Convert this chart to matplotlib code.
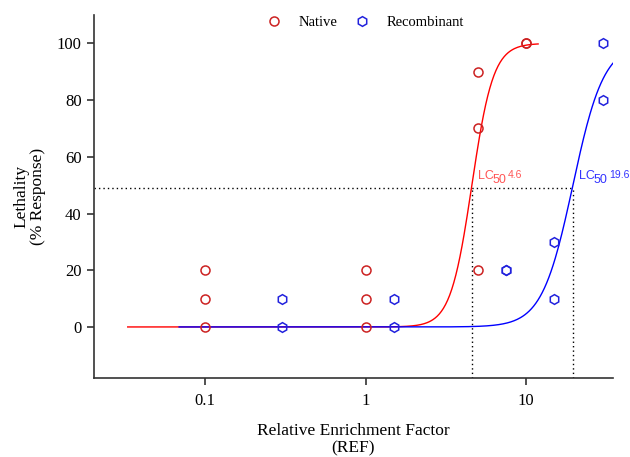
import numpy as np
import matplotlib
matplotlib.use("Agg")
import matplotlib.pyplot as plt

# Data
native_x = [0.1, 0.1, 0.1, 1, 1, 1, 5, 5, 5, 10, 10]
native_y = [0, 10, 20, 0, 10, 20, 20, 70, 90, 100, 100]
recomb_x = [0.3, 0.3, 1.5, 1.5, 7.5, 7.5, 15, 15, 30, 30]
recomb_y = [0, 10, 0, 10, 20, 20, 10, 30, 80, 100]

# Fitted Hill curve parameters (LC50, slope) and plotted ranges
native_lc50, native_slope, native_range = 4.6, 6.5, (0.033, 11.9)
recomb_lc50, recomb_slope, recomb_range = 19.6, 4.5, (0.069, 34.8)
half_level = 49

x_ticks = [0.1, 1, 10]
x_ticklabels = ["0.1", "1", "10"]
y_ticks = [0, 20, 40, 60, 80, 100]


def hill(x, lc50, h):
    return 100.0 / (1.0 + (lc50 / x) ** h)


fig = plt.figure(figsize=(6.3, 4.57), dpi=100)
ax = fig.add_axes([94 / 630, 1 - 378 / 457, (613 - 94) / 630, (378 - 15) / 457])

serif = "Liberation Serif"
sans = "Liberation Sans"

# Curves
xn = np.logspace(np.log10(native_range[0]), np.log10(native_range[1]), 400)
xr = np.logspace(np.log10(recomb_range[0]), np.log10(recomb_range[1]), 400)
ax.plot(xn, hill(xn, native_lc50, native_slope), color="#ff0000", lw=1.0, zorder=2)
ax.plot(xr, hill(xr, recomb_lc50, recomb_slope), color="#0000ff", lw=1.0, zorder=2)

# Points
ax.plot(native_x, native_y, linestyle="none", marker="o", ms=6.5, mfc="none",
        mec="#cc2222", mew=1.1, label="Native", zorder=3)
ax.plot(recomb_x, recomb_y, linestyle="none", marker="h", ms=7, mfc="none",
        mec="#2222dd", mew=1.1, label="Recombinant", zorder=3)

# LC50 guide lines
xmin, xmax = 10 ** (-1 - (205 - 94) / 160.5), 10 ** (1 + (613 - 526) / 160.5)
ymin, ymax = -18, 110
dot = (0, (1, 2.2))
ax.plot([xmin, recomb_lc50], [half_level, half_level], color="black", lw=1.0, ls=dot, zorder=1)
ax.plot([native_lc50, native_lc50], [ymin, half_level], color="black", lw=1.0, ls=dot, zorder=1)
ax.plot([recomb_lc50, recomb_lc50], [ymin, half_level], color="black", lw=1.0, ls=dot, zorder=1)

# LC50 labels
for lc, col in [(native_lc50, "#ff5555"), (recomb_lc50, "#3333ff")]:
    ax.annotate("LC", (lc, half_level), xytext=(6, 9), textcoords="offset pixels",
                color=col, fontsize=9, family=sans, ha="left", va="baseline")
    ax.annotate("50", (lc, half_level), xytext=(21, 5), textcoords="offset pixels",
                color=col, fontsize=9, family=sans, ha="left", va="baseline")
    ax.annotate(f"{lc:g}", (lc, half_level), xytext=(36, 10), textcoords="offset pixels",
                color=col, fontsize=7.5, family=sans, ha="left", va="baseline")

ax.set_xscale("log")
ax.set_xlim(xmin, xmax)
ax.set_ylim(ymin, ymax)
ax.set_xticks(x_ticks)
ax.set_xticklabels(x_ticklabels)
ax.xaxis.set_minor_locator(matplotlib.ticker.NullLocator())
ax.set_yticks(y_ticks)

for s in ["top", "right"]:
    ax.spines[s].set_visible(False)
for s in ["left", "bottom"]:
    ax.spines[s].set_color("#333333")
    ax.spines[s].set_linewidth(1.2)
ax.tick_params(direction="out", length=5, width=1.2, color="#333333", labelsize=12)
ax.tick_params(axis="x", pad=6)
ax.tick_params(axis="y", pad=4)
for lab in ax.get_xticklabels() + ax.get_yticklabels():
    lab.set_family(serif)

ax.set_xlabel("Relative Enrichment Factor\n(REF)", family=serif, fontsize=12.5,
              linespacing=1.05)
ax.set_ylabel("Lethality\n(% Response)", family=serif, fontsize=12.5,
              linespacing=1.1)
ax.xaxis.set_label_coords(0.5, -0.125)
ax.yaxis.set_label_coords(-0.092, 0.5)

leg = ax.legend(loc="upper center", bbox_to_anchor=(0.523, 1.035), ncol=2, frameon=False,
                handlelength=1.0, handletextpad=1.2, columnspacing=1.2,
                prop={"family": serif, "size": 10.5}, numpoints=1)

fig.savefig("out.png", dpi=100)
